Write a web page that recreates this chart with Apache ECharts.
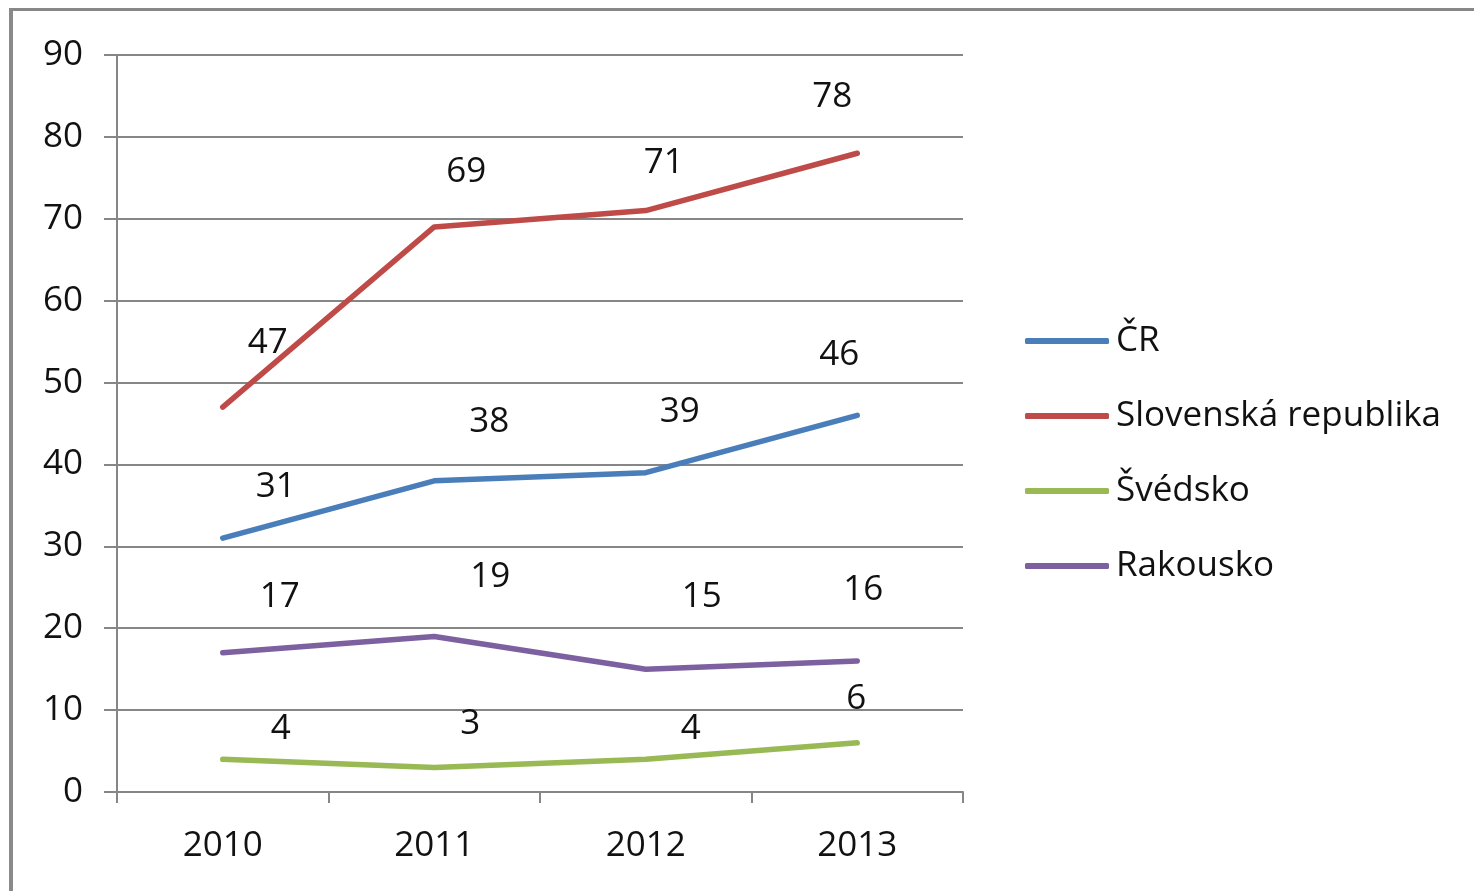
<!DOCTYPE html>
<html>
<head>
<meta charset="utf-8">
<script src="https://cdn.jsdelivr.net/npm/echarts@6/dist/echarts.min.js"></script>
<style>
html,body{margin:0;padding:0;background:#fff;}
#wrap{position:relative;width:1474px;height:891px;overflow:hidden;}
#chart{position:absolute;left:0;top:0;width:1474px;height:891px;}
#frame{position:absolute;left:9px;top:8px;width:1500px;height:900px;border-top:3px solid #878787;border-left:4px solid #8a8a8a;box-sizing:border-box;pointer-events:none;}
</style>
</head>
<body>
<div id="wrap"><div id="chart"></div><div id="frame"></div></div>
<script>
const categories = ['2010', '2011', '2012', '2013'];
const seriesNames = ['ČR', 'Slovenská republika', 'Švédsko', 'Rakousko'];
const crValues = [31, 38, 39, 46];
const skValues = [47, 69, 71, 78];
const seValues = [4, 3, 4, 6];
const atValues = [17, 19, 15, 16];
const yTicks = { min: 0, max: 90, interval: 10 };

const colors = ['#4a7ebb', '#be4b48', '#98b954', '#7d60a0'];
// label offsets (style only), relative to each point
const labelOffsets = [
  [[53, -51], [55, -59], [34, -61], [-18, -60]],
  [[45, -64], [32, -55], [18, -48], [-25, -56]],
  [[58, -30], [36, -43], [45, -30], [-1, -44]],
  [[57, -56], [56, -59], [56, -72], [6, -71]]
];
const allValues = [crValues, skValues, seValues, atValues];
const FONT = '"Open Sans", "Noto Sans", sans-serif';
const FS = 35;

const series = allValues.map((vals, si) => ({
  name: seriesNames[si],
  type: 'line',
  symbol: 'circle',
  symbolSize: 1,
  showSymbol: true,
  itemStyle: { color: colors[si] },
  lineStyle: { width: 5.5, color: colors[si], cap: 'round', join: 'round' },
  data: vals.map((v, i) => ({
    value: v,
    label: { offset: labelOffsets[si][i] }
  })),
  label: {
    show: true,
    position: 'inside',
    color: '#111',
    fontFamily: FONT,
    fontSize: FS
  },
  emphasis: { disabled: true },
  animation: false
}));

const chart = echarts.init(document.getElementById('chart'), null, { renderer: 'canvas' });
chart.setOption({
  backgroundColor: '#fff',
  animation: false,
  grid: { left: 117, right: 511, top: 55, bottom: 99, containLabel: false },
  legend: {
    orient: 'vertical',
    left: 1025,
    top: 318,
    padding: 0,
    itemWidth: 84,
    itemHeight: 6,
    itemGap: 29,
    icon: 'roundRect',
    textStyle: { fontFamily: FONT, fontSize: FS, color: '#111', lineHeight: 46, padding: [0, 0, 0, 2] },
    data: seriesNames
  },
  xAxis: {
    type: 'category',
    data: categories,
    boundaryGap: true,
    axisLine: { lineStyle: { color: '#868686', width: 2 } },
    axisTick: { show: true, interval: 0, length: 11, lineStyle: { color: '#868686', width: 2 } },
    axisLabel: { fontFamily: FONT, fontSize: FS, color: '#111', margin: 37 },
    splitLine: { show: false }
  },
  yAxis: {
    type: 'value',
    min: yTicks.min,
    max: yTicks.max,
    interval: yTicks.interval,
    axisLine: { show: true, lineStyle: { color: '#868686', width: 2 } },
    axisTick: { show: true, length: 13, lineStyle: { color: '#868686', width: 2 } },
    axisLabel: { fontFamily: FONT, fontSize: FS, color: '#111', margin: 34 },
    splitLine: { show: true, lineStyle: { color: '#868686', width: 2 } }
  },
  series: series
});
</script>
</body>
</html>
